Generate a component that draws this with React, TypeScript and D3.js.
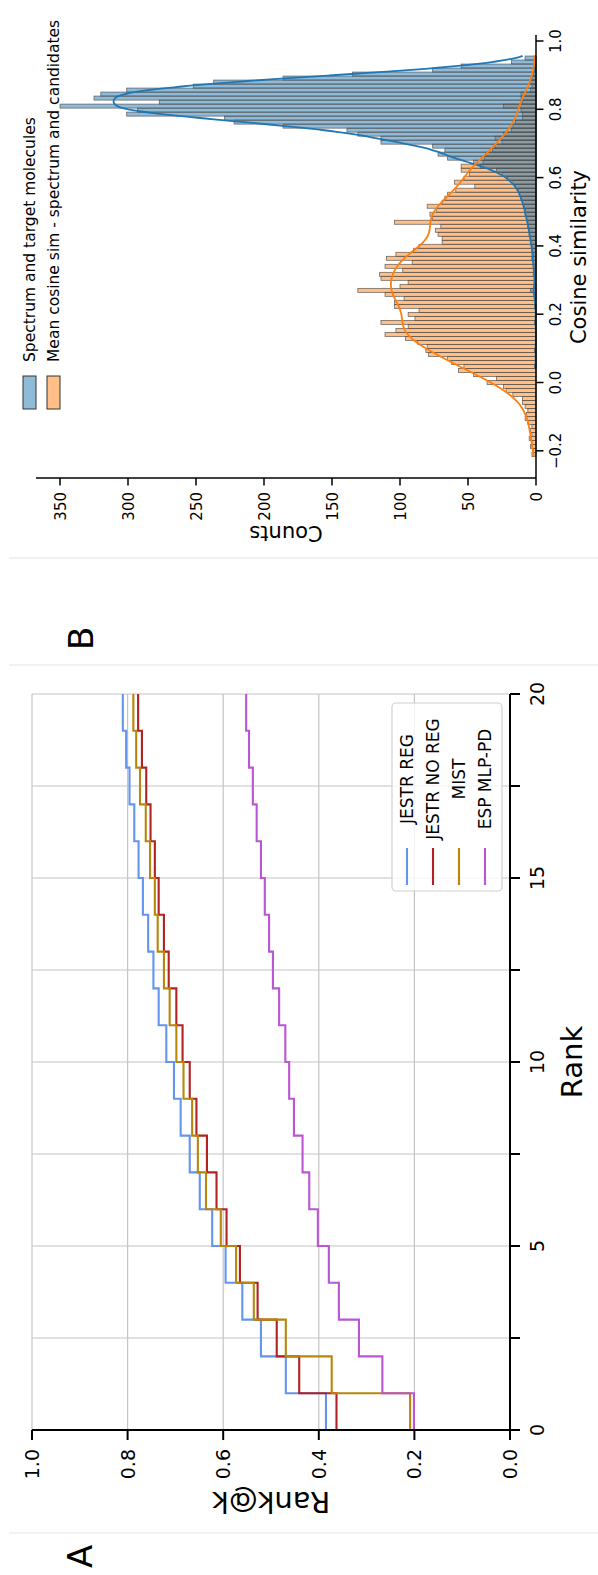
import React from 'react';
import * as d3 from 'd3';

// ---------- Panel A data ----------
const ranks = [0, 1, 2, 3, 4, 5, 6, 7, 8, 9, 10, 11, 12, 13, 14, 15, 16, 17, 18, 19];
const rankMax = 20;
const jestrReg = [0.385, 0.469, 0.521, 0.560, 0.595, 0.623, 0.649, 0.670, 0.689, 0.703, 0.719, 0.735, 0.746, 0.757, 0.768, 0.777, 0.786, 0.796, 0.803, 0.810];
const jestrNoReg = [0.363, 0.441, 0.488, 0.528, 0.565, 0.593, 0.614, 0.634, 0.656, 0.670, 0.685, 0.698, 0.714, 0.724, 0.735, 0.743, 0.752, 0.761, 0.770, 0.778];
const mist = [0.209, 0.373, 0.469, 0.536, 0.573, 0.605, 0.636, 0.653, 0.665, 0.683, 0.698, 0.712, 0.724, 0.737, 0.743, 0.753, 0.762, 0.774, 0.782, 0.788];
const espMlp = [0.201, 0.267, 0.316, 0.358, 0.379, 0.402, 0.420, 0.434, 0.452, 0.462, 0.470, 0.483, 0.496, 0.504, 0.513, 0.521, 0.530, 0.538, 0.546, 0.552];
const seriesNames = ['JESTR REG', 'JESTR NO REG', 'MIST', 'ESP MLP-PD'];
const seriesColors = ['#6495ED', '#B22222', '#B8860B', '#BA55D3'];
const rankTicks = [0, 2.5, 5, 7.5, 10, 12.5, 15, 17.5, 20];
const rankLabeled = [0, 5, 10, 15, 20];
const rankAtKTicks = [0, 0.2, 0.4, 0.6, 0.8, 1.0];

// ---------- Panel B data ----------
const binStart = -0.217;
const binWidth = 0.01173;
const orangeCounts = [
  3, 2, 4, 3, 5, 3, 4, 3, 6, 8,
  7, 6, 8, 10, 10, 17, 22, 24, 36, 29,
  46, 57, 53, 62, 65, 79, 81, 80, 87, 96,
  111, 103, 94, 114, 89, 94, 86, 104, 104, 97,
  111, 131, 100, 94, 114, 115, 98, 111, 91, 110,
  103, 90, 86, 69, 69, 72, 74, 70, 104, 76,
  78, 73, 80, 69, 67, 65, 59, 45, 60, 53,
  49, 55, 55, 39, 38, 37, 32, 30, 25, 30,
  24, 18, 17, 15, 10, 10, 11, 24, 10, 11,
  11, 4, 3, 4, 3, 2, 1, 1, 1, 1,
];
const blueCounts = [
  0, 0, 0, 0, 0, 0, 0, 0, 0, 0,
  0, 0, 0, 0, 0, 0, 0, 0, 0, 0,
  0, 0, 1, 0, 0, 0, 1, 0, 0, 0,
  0, 0, 0, 1, 0, 0, 0, 1, 0, 1,
  1, 4, 1, 0, 1, 2, 1, 2, 2, 3,
  2, 3, 3, 4, 4, 5, 5, 6, 6, 7,
  8, 8, 9, 10, 11, 12, 13, 15, 17, 21,
  25, 29, 41, 46, 65, 72, 67, 76, 114, 114,
  131, 139, 186, 222, 229, 301, 293, 350, 277, 325,
  320, 301, 252, 237, 186, 135, 76, 55, 18, 8,
];
const histNames = ['Spectrum and target molecules', 'Mean cosine sim - spectrum and candidates'];
const histColors = ['#1f77b4', '#ff7f0e'];
const cosTicks = [-0.2, 0, 0.2, 0.4, 0.6, 0.8, 1.0];
const countTicks = [0, 50, 100, 150, 200, 250, 300, 350];

function fmtCos(v: number) {
  const s = v.toFixed(1);
  return v < 0 ? '\u2212' + s.slice(1) : s;
}

function kdeCurve(counts: number[]) {
  const centers = counts.map((_, i) => binStart + (i + 0.5) * binWidth);
  const n = d3.sum(counts);
  const mean = d3.sum(counts.map((c, i) => c * centers[i])) / n;
  const variance = d3.sum(counts.map((c, i) => c * (centers[i] - mean) ** 2)) / n;
  const h = Math.sqrt(variance) * Math.pow(n, -0.2);
  const nz = counts.map((c, i) => (c > 0 ? i : -1)).filter((i) => i >= 0);
  const lo = binStart + nz[0] * binWidth;
  const hi = binStart + (nz[nz.length - 1] + 1) * binWidth;
  const pts: [number, number][] = [];
  const N = 400;
  for (let k = 0; k <= N; k++) {
    const x = lo + ((hi - lo) * k) / N;
    let s = 0;
    for (let i = 0; i < counts.length; i++) {
      if (!counts[i]) continue;
      const z = (x - centers[i]) / h;
      s += counts[i] * Math.exp(-0.5 * z * z);
    }
    pts.push([x, (s / (h * Math.sqrt(2 * Math.PI))) * binWidth]);
  }
  return pts;
}

export default function App() {
  // Original (landscape) frame: X along 0..1575, Y along 0..598, rotated -90deg onto the page.
  const xA = d3.scaleLinear().domain([0, 20]).range([145, 881]);
  const yA = d3.scaleLinear().domain([0, 1]).range([510, 32]);
  const stepLine = d3
    .line<[number, number]>()
    .x((d) => xA(d[0]))
    .y((d) => yA(d[1]))
    .curve(d3.curveStepAfter);
  const allSeries = [jestrReg, jestrNoReg, mist, espMlp];

  const xB = d3.scaleLinear().domain([-0.2, 1.0]).range([1124.2, 1534]);
  const yB = d3.scaleLinear().domain([0, 350]).range([536, 60]);
  const kdeLine = d3
    .line<[number, number]>()
    .x((d) => xB(d[0]))
    .y((d) => yB(d[1]))
    .curve(d3.curveBasis);

  const bars = (counts: number[], color: string) =>
    counts.map((c, i) =>
      c > 0 ? (
        <rect
          key={i}
          x={xB(binStart + i * binWidth)}
          width={xB(binStart + (i + 1) * binWidth) - xB(binStart + i * binWidth)}
          y={yB(c)}
          height={yB(0) - yB(c)}
          fill={color}
          fillOpacity={0.5}
          stroke="#4d4d4d"
          strokeOpacity={0.8}
          strokeWidth={0.8}
        />
      ) : null
    );

  return (
    <svg
      width={598}
      height={1575}
      style={{ position: 'absolute', left: 0, top: 0, background: '#fff' }}
      fontFamily="DejaVu Sans"
    >
      <rect width={598} height={1575} fill="#fff" />
      <g transform="translate(0,1575) rotate(-90)">
        {/* separators */}
        {[42, 910, 1017].map((x) => (
          <line key={x} x1={x} x2={x} y1={9} y2={598} stroke="#e3e3e3" strokeWidth={1} />
        ))}
        {/* panel labels */}
        <text x={7} y={92} fontSize={34}>A</text>
        <text x={925} y={93} fontSize={34}>B</text>

        {/* ---------- Panel A ---------- */}
        {rankTicks.map((t) => (
          <line key={'gx' + t} x1={xA(t)} x2={xA(t)} y1={yA(0)} y2={yA(1)} stroke="#c4c4c4" strokeWidth={1.2} />
        ))}
        {rankAtKTicks.map((t) => (
          <line key={'gy' + t} x1={xA(0)} x2={xA(20)} y1={yA(t)} y2={yA(t)} stroke="#c4c4c4" strokeWidth={1.2} />
        ))}
        {allSeries.map((vals, si) => {
          const pts: [number, number][] = vals.map((v, i) => [ranks[i], v] as [number, number]);
          pts.push([rankMax, vals[vals.length - 1]]);
          return (
            <path key={si} d={stepLine(pts) || ''} fill="none" stroke={seriesColors[si]} strokeWidth={2.1} />
          );
        })}
        {/* spines */}
        <line x1={xA(0)} x2={xA(20)} y1={yA(0)} y2={yA(0)} stroke="#000" strokeWidth={2} />
        <line x1={xA(0)} x2={xA(0)} y1={yA(0)} y2={yA(1)} stroke="#000" strokeWidth={2} />
        {rankTicks.map((t) => (
          <line key={'tx' + t} x1={xA(t)} x2={xA(t)} y1={yA(0)} y2={yA(0) + 10} stroke="#000" strokeWidth={2} />
        ))}
        {rankLabeled.map((t) => (
          <text key={'lx' + t} x={xA(t)} y={544} fontSize={19} textAnchor="middle">{t}</text>
        ))}
        {rankAtKTicks.map((t) => (
          <line key={'ty' + t} x1={xA(0) - 10} x2={xA(0)} y1={yA(t)} y2={yA(t)} stroke="#000" strokeWidth={2} />
        ))}
        {rankAtKTicks.map((t) => (
          <text key={'ly' + t} x={126} y={yA(t) + 7} fontSize={19} textAnchor="end">{t.toFixed(1)}</text>
        ))}
        <text x={(xA(0) + xA(20)) / 2} y={582} fontSize={29} textAnchor="middle">Rank</text>
        <text transform={`translate(83,${(yA(0) + yA(1)) / 2}) rotate(-90)`} fontSize={29} textAnchor="middle">Rank@k</text>
        {/* legend A */}
        <rect x={684} y={392} width={188} height={110} rx={4} fill="#fff" fillOpacity={0.8} stroke="#d0d0d0" strokeWidth={1.2} />
        {seriesNames.map((name, i) => (
          <g key={name}>
            <line x1={690} x2={727} y1={407 + i * 26} y2={407 + i * 26} stroke={seriesColors[i]} strokeWidth={2.1} />
            <text x={796} y={407 + i * 26 + 6} fontSize={17} textAnchor="middle">{name}</text>
          </g>
        ))}

        {/* ---------- Panel B ---------- */}
        {bars(orangeCounts, histColors[1])}
        {bars(blueCounts, histColors[0])}
        <path d={kdeLine(kdeCurve(blueCounts)) || ''} fill="none" stroke={histColors[0]} strokeWidth={1.8} />
        <path d={kdeLine(kdeCurve(orangeCounts)) || ''} fill="none" stroke={histColors[1]} strokeWidth={1.8} />
        <line x1={1097} x2={1540} y1={yB(0)} y2={yB(0)} stroke="#000" strokeWidth={1.5} />
        <line x1={1097} x2={1097} y1={yB(0)} y2={36} stroke="#000" strokeWidth={1.5} />
        {cosTicks.map((t) => (
          <g key={'ct' + t}>
            <line x1={xB(t)} x2={xB(t)} y1={yB(0)} y2={yB(0) + 7.5} stroke="#000" strokeWidth={1.5} />
            <text x={xB(t)} y={561} fontSize={15} textAnchor="middle">{fmtCos(t)}</text>
          </g>
        ))}
        {countTicks.map((t) => (
          <g key={'nt' + t}>
            <line x1={1089.5} x2={1097} y1={yB(t)} y2={yB(t)} stroke="#000" strokeWidth={1.5} />
            <text x={1083} y={yB(t) + 5.5} fontSize={15} textAnchor="end">{t}</text>
          </g>
        ))}
        <text x={1318} y={586} fontSize={21} textAnchor="middle">Cosine similarity</text>
        <text transform={`translate(1049,286) rotate(-90)`} fontSize={21} textAnchor="middle">Counts</text>
        {/* legend B */}
        {histNames.map((name, i) => (
          <g key={name}>
            <rect x={1166} y={23 + i * 24} width={33} height={13} fill={histColors[i]} fillOpacity={0.5} stroke="#333" strokeWidth={1} />
            <text x={1213} y={29.5 + i * 24 + 5.5} fontSize={15.5}>{name}</text>
          </g>
        ))}
      </g>
    </svg>
  );
}
